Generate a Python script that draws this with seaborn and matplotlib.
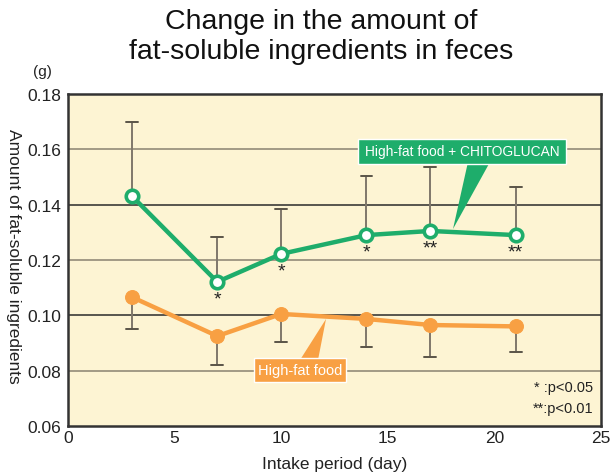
import matplotlib
matplotlib.use("Agg")
import matplotlib.pyplot as plt
import seaborn as sns
import pandas as pd
from matplotlib.patches import Polygon

days = [3, 7, 10, 14, 17, 21]
chito_mean = [0.1431, 0.1121, 0.1222, 0.1290, 0.1305, 0.1290]
chito_upper = [0.1699, 0.1282, 0.1384, 0.1504, 0.1536, 0.1464]
hf_mean = [0.1066, 0.0925, 0.1005, 0.0987, 0.0965, 0.0960]
hf_lower = [0.0950, 0.0822, 0.0905, 0.0886, 0.0848, 0.0866]
stars = ["", "*", "*", "*", "**", "**"]

GREEN = "#1EAD6B"
ORANGE = "#F8A043"
BG = "#FDF4D3"
ERR = "#7F776B"

df = pd.DataFrame({
    "day": days * 2,
    "value": chito_mean + hf_mean,
    "group": ["chito"] * len(days) + ["hf"] * len(days),
})

sns.set_theme(style="white")
plt.rcParams["font.family"] = ["Liberation Sans", "DejaVu Sans"]

fig = plt.figure(figsize=(6.13, 4.77), dpi=100)
ax = fig.add_axes([68 / 613, 1 - 427 / 477, (601 - 68) / 613, (427 - 95) / 477])
ax.set_facecolor(BG)

for y, c in zip([0.08, 0.10, 0.12, 0.14, 0.16], ["#8a8270", "#2a2a2a", "#8a8270", "#2a2a2a", "#8a8270"]):
    ax.axhline(y, color=c, lw=1.1, zorder=1)

# error bars
for d, m, u in zip(days, chito_mean, chito_upper):
    ax.plot([d, d], [m, u], color=ERR, lw=1.4, zorder=2)
    ax.plot([d - 0.28, d + 0.28], [u, u], color="#5a5448", lw=1.4, zorder=2)
for d, m, l in zip(days, hf_mean, hf_lower):
    ax.plot([d, d], [m, l], color=ERR, lw=1.4, zorder=2)
    ax.plot([d - 0.28, d + 0.28], [l, l], color="#5a5448", lw=1.4, zorder=2)

sns.lineplot(data=df[df.group == "chito"], x="day", y="value", ax=ax, color=GREEN,
             lw=3.2, marker="o", markersize=9, markerfacecolor="white",
             markeredgecolor=GREEN, markeredgewidth=2.6, zorder=4)
sns.lineplot(data=df[df.group == "hf"], x="day", y="value", ax=ax, color=ORANGE,
             lw=3.2, marker="o", markersize=10, markerfacecolor=ORANGE,
             markeredgecolor=ORANGE, zorder=4)

for d, m, s in zip(days, chito_mean, stars):
    if s:
        ax.text(d, m - 0.0030, s, ha="center", va="top", fontsize=14, color="#222222", zorder=5)

ax.set_xlim(0, 25)
ax.set_ylim(0.06, 0.18)
ax.set_xticks([0, 5, 10, 15, 20, 25])
ax.set_yticks([0.06, 0.08, 0.10, 0.12, 0.14, 0.16, 0.18])
ax.set_yticklabels(["0.06", "0.08", "0.10", "0.12", "0.14", "0.16", "0.18"])
ax.tick_params(axis="x", direction="in", length=6, width=1.2, colors="#333333",
               labelsize=12.5, pad=3, labelcolor="#222222")
ax.tick_params(axis="y", length=0, labelsize=12.5, pad=5, labelcolor="#222222")
for sp in ax.spines.values():
    sp.set_color("#333333")
    sp.set_linewidth(1.8)

ax.set_xlabel("Intake period (day)", fontsize=12.5, color="#222222", labelpad=8)
ax.set_ylabel("")
fig.text(13 / 613, 1 - 256 / 477, "Amount of fat-soluble ingredients", rotation=270,
         ha="center", va="center", fontsize=12.5, color="#222222")
fig.text(42 / 613, 1 - 72 / 477, "(g)", ha="center", va="center", fontsize=11, color="#222222")

fig.text(321 / 613, 1 - 22 / 477, "Change in the amount of", ha="center", va="center",
         fontsize=20.5, color="#111111")
fig.text(321 / 613, 1 - 52 / 477, "fat-soluble ingredients in feces", ha="center", va="center",
         fontsize=20.5, color="#111111")

# callouts
tr = ax.transData.inverted()
def px(x, y):
    return tr.transform(fig.transFigure.transform((x / 613, 1 - y / 477)))

gx0, gy0 = px(358, 165)
gx1, gy1 = px(566, 140)
ax.add_patch(Polygon([px(468, 163), px(490, 163), px(453, 230)], closed=True,
                     facecolor=GREEN, edgecolor="none", zorder=6))
ax.add_patch(plt.Rectangle((gx0, gy0), gx1 - gx0, gy1 - gy0, facecolor=GREEN,
                           edgecolor="white", lw=1.0, zorder=6))
ax.text((gx0 + gx1) / 2, (gy0 + gy1) / 2, "High-fat food + CHITOGLUCAN", color="white",
        ha="center", va="center", fontsize=9.9, zorder=7)

ox0, oy0 = px(254, 383)
ox1, oy1 = px(346, 359)
ax.add_patch(Polygon([px(300, 361), px(318, 361), px(326, 320)], closed=True,
                     facecolor=ORANGE, edgecolor="none", zorder=6))
ax.add_patch(plt.Rectangle((ox0, oy0), ox1 - ox0, oy1 - oy0, facecolor=ORANGE,
                           edgecolor="white", lw=1.0, zorder=6))
ax.text((ox0 + ox1) / 2, (oy0 + oy1) / 2, "High-fat food", color="white",
        ha="center", va="center", fontsize=10.5, zorder=7)

ax.text(0.985, 0.118, "* :p<0.05", transform=ax.transAxes, ha="right", va="center",
        fontsize=10.5, color="#222222")
ax.text(0.985, 0.055, "**:p<0.01", transform=ax.transAxes, ha="right", va="center",
        fontsize=10.5, color="#222222")

fig.patch.set_facecolor("white")
fig.savefig("out.png", dpi=100)
